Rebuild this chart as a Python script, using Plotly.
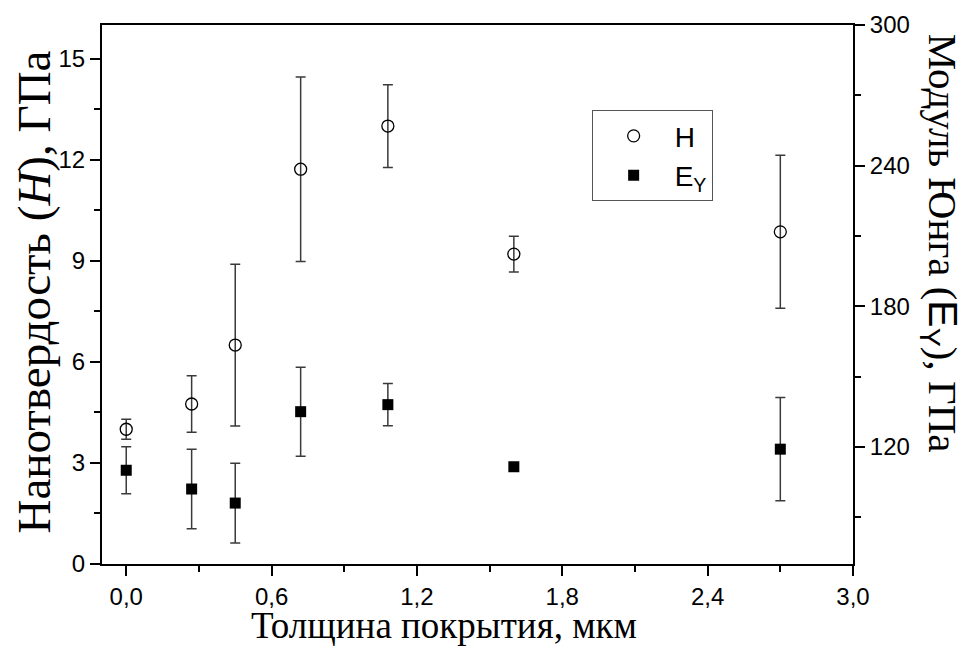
import plotly.graph_objects as go

# Data
thickness = [0.0, 0.27, 0.45, 0.72, 1.08, 1.60, 2.70]          # мкм
hardness = [4.0, 4.75, 6.5, 11.72, 13.0, 9.2, 9.86]            # ГПа
hardness_err = [0.3, 0.84, 2.4, 2.74, 1.23, 0.53, 2.27]
young = [110, 102, 96, 135, 138, 111.5, 119]                   # ГПа
young_err = [10, 17, 17, 19, 9, None, 22]

x_ticks = [0.0, 0.6, 1.2, 1.8, 2.4, 3.0]
x_ticktext = ["0,0", "0,6", "1,2", "1,8", "2,4", "3,0"]

SANS = "Liberation Sans, Arial, sans-serif"
SERIF = "Liberation Serif, Times New Roman, serif"
ERRC = "#3a3a3a"

fig = go.Figure()

fig.add_trace(go.Scatter(
    x=thickness, y=hardness, mode="markers", name="H",
    marker=dict(symbol="circle-open", size=12, color="black", line=dict(width=1.3, color="black")),
    error_y=dict(type="data", array=hardness_err, visible=True, color=ERRC, thickness=1.5, width=5),
    yaxis="y", legendgroup="a",
))
fig.add_trace(go.Scatter(
    x=thickness, y=young, mode="markers", name="E<sub>Y</sub>",
    marker=dict(symbol="square", size=11, color="black"),
    error_y=dict(type="data", array=young_err, visible=True, color=ERRC, thickness=1.5, width=5),
    yaxis="y2", legendgroup="b",
))

axis_common = dict(showline=True, linecolor="black", linewidth=2, showgrid=False, zeroline=False,
                   tickfont=dict(family=SANS, size=24, color="black"), tickcolor="black",
                   tickwidth=2, ticklen=10, automargin=False)

fig.update_layout(
    width=960, height=638,
    margin=dict(l=94, r=115, t=17, b=82, autoexpand=False),
    paper_bgcolor="white", plot_bgcolor="white",
    separators=", ",
    showlegend=True,
    legend=dict(x=0.652, y=0.842, xanchor="left", yanchor="top",
                bordercolor="#555", borderwidth=1, bgcolor="white",
                font=dict(family=SANS, size=28, color="black"),
                itemwidth=72, tracegroupgap=0),
    xaxis=dict(range=[-0.1, 3.0], tickvals=x_ticks, ticktext=x_ticktext, ticks="outside",
               mirror=True,
               minor=dict(ticks="outside", ticklen=6, tickwidth=2, tickcolor="black", dtick=0.3, tick0=0),
               **axis_common),
    xaxis2=dict(range=[-0.1, 3.0], overlaying="x", side="top", showticklabels=False,
                tickvals=x_ticks, ticks="inside", ticklen=10, tickwidth=2, tickcolor="black",
                minor=dict(ticks="inside", ticklen=6, tickwidth=2, tickcolor="black", dtick=0.3, tick0=0),
                showline=False, showgrid=False, zeroline=False, automargin=False),
    yaxis=dict(range=[0, 16], tick0=0, dtick=3, ticks="outside",
               minor=dict(ticks="outside", ticklen=6, tickwidth=2, tickcolor="black", dtick=1.5, tick0=0),
               **axis_common),
    yaxis2=dict(range=[70, 300], overlaying="y", side="right", tick0=0, dtick=60, ticks="outside",
                minor=dict(ticks="outside", ticklen=6, tickwidth=2, tickcolor="black", dtick=30, tick0=0),
                **axis_common),
)

# Axis titles as annotations (positions matched to the reference)
fig.add_annotation(text="Нанотвердость (<i>H</i>), ГПа", xref="paper", yref="paper",
                   x=-0.091, y=0.505, xanchor="center", yanchor="middle", textangle=-90, showarrow=False,
                   font=dict(family=SERIF, size=47, color="black"))
fig.add_annotation(text='Модуль Юнга (<span style="font-family:Liberation Sans">E<sub>Y</sub></span>), ГПа',
                   xref="paper", yref="paper",
                   x=1.116, y=0.596, xanchor="center", yanchor="middle", textangle=90, showarrow=False,
                   font=dict(family=SERIF, size=41, color="black"))
fig.add_annotation(text="Толщина покрытия, мкм", xref="paper", yref="paper",
                   x=0.455, y=-0.114, xanchor="center", yanchor="middle", showarrow=False,
                   font=dict(family=SERIF, size=37, color="black"))

fig.write_html("out.html")
